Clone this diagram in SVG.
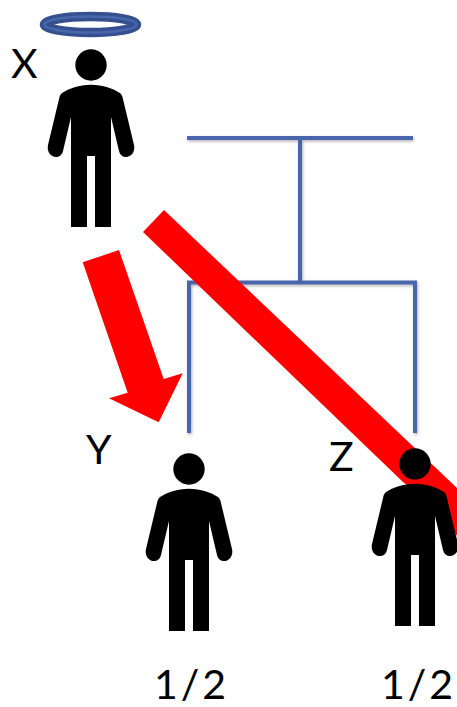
<svg xmlns="http://www.w3.org/2000/svg" width="457" height="707" viewBox="0 0 457 707">
<style>
.b{stroke:#4a66ac;stroke-width:4;fill:none;stroke-linecap:butt;filter:url(#s)}
.r{fill:#f00}
.t{font-family:Lato,"Open Sans","Liberation Sans",sans-serif;font-size:41px;fill:#000}
</style>
<defs>
<filter id="s" x="0" y="0" width="457" height="707" filterUnits="userSpaceOnUse"><feDropShadow dx="1" dy="1.5" stdDeviation="1.5" flood-color="#000" flood-opacity=".3"/></filter>
<path id="p" d="M-15.700 0a15.700 15.700 0 1 0 31.400 0a15.700 15.700 0 1 0-31.400 0ZM0 19.700C12 19.700 22 23.500 29 28C30 29 31 30 31.500 32L43 80C44.500 87 40 92 35 92C31.500 92 29 90 28 86L20 52L20 162L4 162L4 91L-4 91L-4 162L-20 162L-20 52L-28 86C-29 90-31.500 92-35 92C-40 92-44.500 87-43 80L-31.500 32C-31 30-30 29-29 28C-22 23.500-12 19.700 0 19.700Z"/>
</defs>
<rect width="457" height="707" fill="#fff"/>
<g id="connectors">
<path class="b" d="M187 138H413M300 138V282.500M189 433V282.500H415V433"/>
<polygon id="arrow-xy" class="r" points="82.700,262.300 119,250 163.700,379 182.700,373.300 158.700,422.300 109,398.300 127.700,392.700"/>
<polygon id="arrow-xz" class="r" points="164,210 143,232 403,482 440,510 457,536 457,488"/>
</g>
<g id="node-x">
<ellipse cx="90.500" cy="24.500" rx="46" ry="8" fill="none" stroke="#34508f" stroke-width="9.500"/>
<ellipse cx="90.500" cy="24.500" rx="46" ry="8" fill="none" stroke="#4a66ac" stroke-width="2.500"/>
<use href="#p" x="91" y="65"/>
<text class="t" x="11" y="78">X</text>
</g>
<g id="node-y">
<use href="#p" x="189" y="469"/>
<text class="t" x="86" y="464">Y</text>
<text class="t" x="154" y="698.500" textLength="72">1/2</text>
</g>
<g id="node-z">
<use href="#p" x="415" y="464"/>
<text class="t" x="329" y="471">Z</text>
<text class="t" x="381" y="698.500" textLength="72">1/2</text>
</g>
</svg>
